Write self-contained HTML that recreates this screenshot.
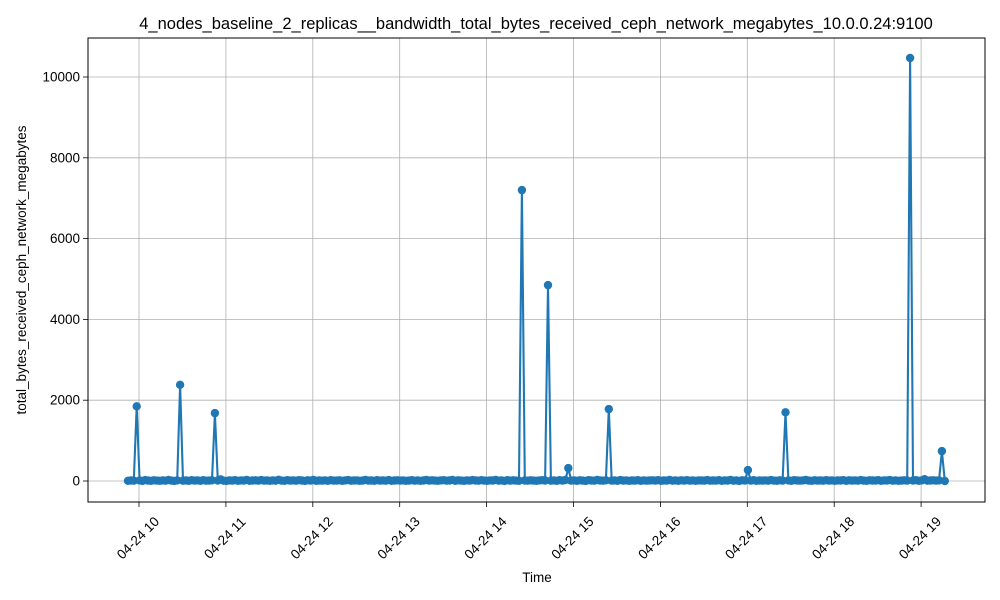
<!DOCTYPE html>
<html><head><meta charset="utf-8"><style>
html,body{margin:0;padding:0;background:#fff}
svg{display:block;font-family:"Liberation Sans","DejaVu Sans",sans-serif}
</style></head><body>
<svg id="chart" width="1000" height="600" viewBox="0 0 1000 600" xmlns="http://www.w3.org/2000/svg">
<rect width="1000" height="600" fill="#fff"/>
<text x="536" y="29" font-size="16.5" text-anchor="middle" fill="#000">4_nodes_baseline_2_replicas__bandwidth_total_bytes_received_ceph_network_megabytes_10.0.0.24:9100</text>
<g id="grid"></g>
<g id="series"></g>
<rect x="88" y="38" width="897" height="464" fill="none" stroke="#000" stroke-width="1"/>
<g id="axes"></g>
<text x="537" y="582" font-size="13.5" text-anchor="middle">Time</text>
<text transform="translate(26,270) rotate(-90)" font-size="13.5" text-anchor="middle">total_bytes_received_ceph_network_megabytes</text>
</svg>
<script>
const startHour = 9.873;
const stepHour = 1/30;
const values = [
5,12,8,1850,15,3,22,10,6,18,
9,4,14,7,25,11,3,16,2380,8,
12,6,19,9,14,4,21,7,10,17,
1680,13,40,8,3,15,11,20,6,14,
9,27,4,12,18,7,22,10,13,5,
16,8,30,11,4,19,9,14,7,21,
12,3,17,10,25,6,13,8,15,4,
20,11,9,18,5,14,23,7,12,16,
6,10,28,9,13,4,19,11,15,8,
22,5,12,17,9,14,6,11,20,7,
16,4,13,24,9,18,10,5,14,21,
8,12,26,6,17,11,4,15,9,23,
13,7,19,10,5,16,12,28,8,14,
3,20,11,17,9,6,7200,13,7,18,
10,4,15,21,12,4850,8,16,5,19,
11,24,320,9,14,6,17,10,3,20,
13,8,25,12,7,18,1780,11,15,4,
22,9,16,6,13,10,19,5,14,8,
12,17,9,21,6,13,10,24,7,15,
4,18,11,20,8,14,5,16,12,9,
23,7,13,10,19,6,15,11,28,8,
14,3,17,12,270,9,20,5,13,10,
16,7,22,11,4,18,9,1700,14,6,
19,12,8,15,25,10,5,17,11,13,
7,21,9,16,4,14,12,20,6,18,
10,15,8,23,11,5,17,13,9,19,
6,14,12,22,8,16,4,11,18,10,
10470,13,19,5,14,45,8,12,17,9,
15,740,0
];
const xTickHours = [10,11,12,13,14,15,16,17,18,19];
const xTickLabels = ["04-24 10","04-24 11","04-24 12","04-24 13","04-24 14","04-24 15","04-24 16","04-24 17","04-24 18","04-24 19"];
const yTicks = [0,2000,4000,6000,8000,10000];

const NS = "http://www.w3.org/2000/svg";
const xScale = h => 139 + (h - 10) * 86.9;
const yScale = v => 481 - v * 0.0404;
function mk(tag, attrs, parent){const e=document.createElementNS(NS,tag);for(const k in attrs)e.setAttribute(k,attrs[k]);parent.appendChild(e);return e;}
const grid=document.getElementById('grid'), axes=document.getElementById('axes'), series=document.getElementById('series');

xTickHours.forEach((h,i)=>{
  const x=xScale(h);
  const g=mk('line',{x1:x,x2:x,y1:38,y2:502,stroke:'#b0b0b0','stroke-width':0.8},grid);
  
  
  const t=mk('line',{x1:x,x2:x,y1:502,y2:507,stroke:'#000','stroke-width':0.8},axes);
  
  
  const l=mk('text',{x:x-1,y:538,'font-size':13.5,'text-anchor':'middle','dominant-baseline':'central',transform:`rotate(-45 ${x-1} 538)`},axes);
  l.textContent=xTickLabels[i];
  
  
});
yTicks.forEach(v=>{
  const y=yScale(v);
  const g=mk('line',{x1:88,x2:985,y1:y,y2:y,stroke:'#b0b0b0','stroke-width':0.8},grid);
  
  
  const t=mk('line',{x1:83,x2:88,y1:y,y2:y,stroke:'#000','stroke-width':0.8},axes);
  
  
  const l=mk('text',{x:80,y:y,'font-size':13.5,'text-anchor':'end','dominant-baseline':'central'},axes);
  l.textContent=String(v);
  
  
});
const pts=values.map((v,i)=>[xScale(startHour+i*stepHour),yScale(v)]);
const line=mk('polyline',{points:pts.map(p=>p[0].toFixed(1)+','+p[1].toFixed(1)).join(' '),fill:'none',stroke:'#1f77b4','stroke-width':2.1,'stroke-linejoin':'round'},series);


pts.forEach(p=>{
  const c=mk('circle',{cx:p[0].toFixed(1),cy:p[1].toFixed(1),r:4.2,fill:'#1f77b4'},series);
  
  
});
</script>
</body></html>
